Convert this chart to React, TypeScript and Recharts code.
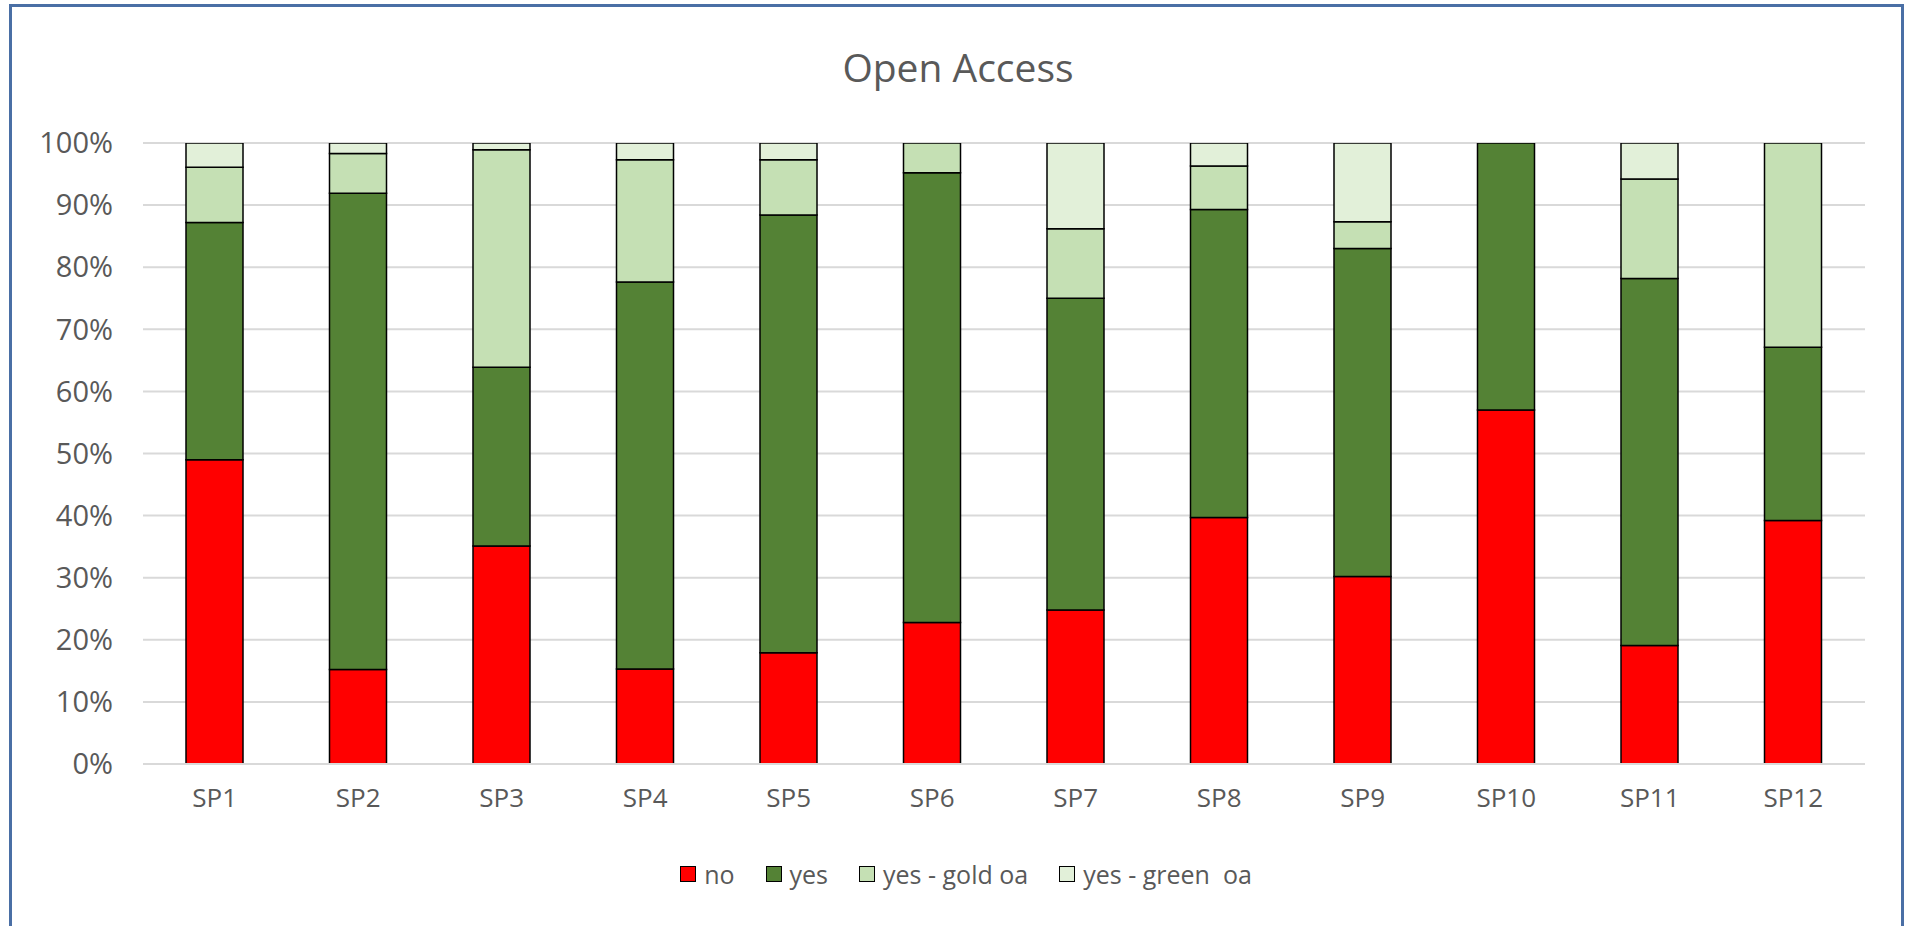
import React from 'react';
import { BarChart, Bar, XAxis, YAxis, CartesianGrid, Legend } from 'recharts';

const categories = ['SP1', 'SP2', 'SP3', 'SP4', 'SP5', 'SP6', 'SP7', 'SP8', 'SP9', 'SP10', 'SP11', 'SP12'];
const noValues = [49, 15.2, 35.1, 15.3, 17.9, 22.8, 24.8, 39.7, 30.2, 57, 19.1, 39.2];
const yesValues = [38.2, 76.7, 28.8, 62.3, 70.5, 72.4, 50.2, 49.6, 52.8, 43, 59.1, 27.9];
const goldOaValues = [8.9, 6.4, 35.0, 19.7, 8.9, 4.8, 11.2, 7.0, 4.3, 0, 16.0, 32.9];
const greenOaValues = [3.9, 1.7, 1.1, 2.7, 2.7, 0, 13.8, 3.7, 12.7, 0, 5.8, 0];
const yTicks = [0, 10, 20, 30, 40, 50, 60, 70, 80, 90, 100];

// Series colours (Excel green palette)
const SERIES = [
  { key: 'no', name: 'no', color: '#FF0000' },
  { key: 'yes', name: 'yes', color: '#548235' },
  { key: 'gold', name: 'yes - gold oa', color: '#C5E0B4' },
  { key: 'green', name: 'yes - green  oa', color: '#E2F0D9' },
];

const data = categories.map((name, i) => ({
  name,
  no: noValues[i],
  yes: yesValues[i],
  gold: goldOaValues[i],
  green: greenOaValues[i],
}));

const FONT = '"Open Sans", "Liberation Sans", sans-serif';
const TEXT_COLOR = '#595959';

const renderLegend = () => (
  <div
    style={{
      display: 'flex',
      justifyContent: 'center',
      alignItems: 'center',
      height: 40,
      paddingLeft: 86,
      fontFamily: FONT,
      fontSize: 25,
      color: TEXT_COLOR,
    }}
  >
    {SERIES.map((s) => (
      <div key={s.key} style={{ display: 'flex', alignItems: 'center', marginRight: 31, whiteSpace: 'pre' }}>
        <span
          style={{
            display: 'inline-block',
            width: 14,
            height: 14,
            background: s.color,
            border: '1.5px solid #000',
            marginRight: 8,
          }}
        />
        <span>{s.name}</span>
      </div>
    ))}
  </div>
);

export default function App() {
  return (
    <div
      style={{
        position: 'absolute',
        left: 9,
        top: 4,
        width: 1889,
        height: 920,
        border: '3px solid #4A6FA5',
        background: '#fff',
      }}
    >
      <div
        style={{
          position: 'absolute',
          left: 0,
          top: 35,
          width: 1892,
          textAlign: 'center',
          fontFamily: FONT,
          fontSize: 39,
          lineHeight: '50px',
          color: TEXT_COLOR,
        }}
      >
        Open Access
      </div>
      <BarChart
        width={1889}
        height={920}
        data={data}
        margin={{ top: 136, right: 36, left: 0, bottom: 33 }}
        barSize={57}
      >
        <CartesianGrid vertical={false} stroke="#D9D9D9" strokeWidth={2} />
        <XAxis
          dataKey="name"
          height={90}
          axisLine={{ stroke: '#D9D9D9', strokeWidth: 2 }}
          tickLine={false}
          tickSize={0}
          tickMargin={25}
          tick={{ fill: TEXT_COLOR, fontSize: 26, fontFamily: FONT }}
        />
        <YAxis
          width={131}
          domain={[0, 100]}
          ticks={yTicks}
          allowDataOverflow
          axisLine={false}
          tickLine={false}
          tickSize={0}
          tickMargin={30}
          tickFormatter={(v: number) => `${v}%`}
          tick={{ fill: TEXT_COLOR, fontSize: 29, fontFamily: FONT }}
        />
        <Legend verticalAlign="bottom" height={40} content={renderLegend} />
        {SERIES.map((s) => (
          <Bar
            key={s.key}
            dataKey={s.key}
            name={s.name}
            stackId="oa"
            fill={s.color}
            stroke="#000"
            strokeWidth={1.5}
            isAnimationActive={false}
          />
        ))}
      </BarChart>
    </div>
  );
}
